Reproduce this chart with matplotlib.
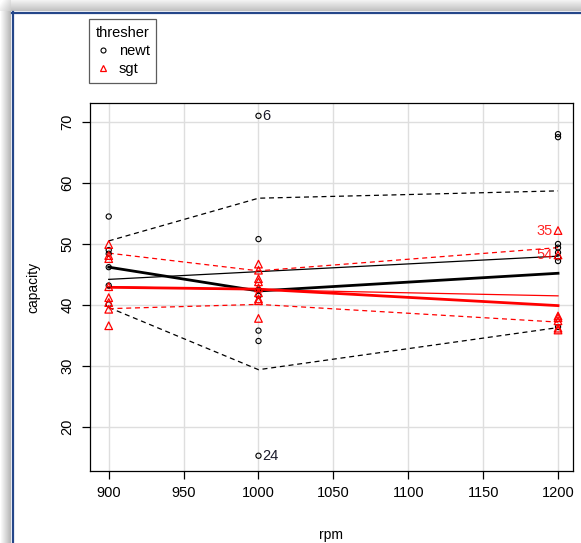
import numpy as np
import matplotlib

matplotlib.use("Agg")
import matplotlib.pyplot as plt
from matplotlib.lines import Line2D

plt.rcParams["font.family"] = ["Liberation Sans", "DejaVu Sans"]

W, H = 581, 543
RED = "#FF0000"
GRID = "#DEDEDE"
FRAME_BLUE = "#25478A"

# observed capacity by rpm, per thresher
newt_rpm = [900, 900, 900, 900, 900, 900,
            1000, 1000, 1000, 1000, 1000, 1000, 1000,
            1200, 1200, 1200, 1200, 1200, 1200, 1200, 1200]
newt_cap = [54.5, 49.0, 48.4, 46.2, 43.2, 40.1,
            71.0, 50.8, 42.5, 41.5, 35.8, 34.1, 15.3,
            68.0, 67.5, 50.0, 49.4, 48.6, 47.8, 47.2, 36.4]
sgt_rpm = [900, 900, 900, 900, 900, 900, 900, 900,
           1000, 1000, 1000, 1000, 1000, 1000, 1000, 1000, 1000,
           1200, 1200, 1200, 1200, 1200, 1200, 1200]
sgt_cap = [49.9, 48.1, 47.6, 43.0, 41.2, 40.4, 39.3, 36.6,
           46.7, 45.7, 44.3, 43.8, 42.8, 42.0, 41.0, 40.7, 37.8,
           52.2, 48.2, 38.2, 37.9, 37.4, 36.2, 35.9]

# fitted lines evaluated at the rpm levels
fit_rpm = [900, 1000, 1200]
newt_lm = [44.2, 45.5, 48.0]
sgt_lm = [43.0, 42.5, 41.5]
newt_smooth = [46.2, 42.3, 45.2]
sgt_smooth = [42.9, 42.6, 39.9]
newt_upper = [50.5, 57.5, 58.7]
newt_lower = [39.6, 29.4, 36.3]
sgt_upper = [48.5, 45.6, 49.4]
sgt_lower = [39.4, 40.1, 37.2]

# labelled points: (rpm, capacity, label, colour, side)
point_ids = [
    (1000, 71.0, "6", "#1a1a2a", "right"),
    (1000, 15.3, "24", "#1a1a2a", "right"),
    (1200, 52.2, "35", RED, "left"),
    (1200, 48.2, "54", RED, "left"),
]

x_ticks = [900, 950, 1000, 1050, 1100, 1150, 1200]
y_ticks = [20, 30, 40, 50, 60, 70]

fig = plt.figure(figsize=(W / 100, H / 100), dpi=100)

# window chrome: shadow bands on top and left, blue border
bg = fig.add_axes([0, 0, 1, 1], zorder=-5)
img = np.ones((H, W, 3))
top = np.linspace(0.95, 0.76, 11)
img[:11, :, :] = top[:, None, None]
left = np.linspace(1.0, 0.72, 11)
img[11:, :11, :] = left[None, :, None]
for i in range(11):
    for j in range(11):
        img[i, j, :] = 0.5 * (top[i] + left[j]) + 0.05
img = np.clip(img, 0, 1)
bg.imshow(img, extent=[0, W, H, 0], aspect="auto", interpolation="bilinear")
bg.plot([12.5, 12.5], [12, H], color=FRAME_BLUE, lw=1.6)
bg.plot([12, W], [12.5, 12.5], color=FRAME_BLUE, lw=1.6)
bg.set_xlim(0, W)
bg.set_ylim(H, 0)
bg.axis("off")

ax = fig.add_axes([90 / W, 1 - 471 / H, 483 / W, 368 / H])
ax.set_xlim(887.5, 1210)
ax.set_ylim(12.8, 73.1)
ax.set_xticks(x_ticks)
ax.set_yticks(y_ticks)
ax.grid(True, color=GRID, lw=1.0)
ax.set_axisbelow(True)
for s in ax.spines.values():
    s.set_linewidth(0.9)
ax.tick_params(direction="out", length=6, width=0.9, labelsize=10.5, pad=5)
plt.setp(ax.get_yticklabels(), rotation=90, va="center")
ax.set_xlabel("rpm", fontsize=10, labelpad=20)
ax.set_ylabel("capacity", fontsize=10, labelpad=15)

# points
ax.scatter(newt_rpm, newt_cap, s=14, facecolors="none", edgecolors="black",
           linewidths=0.8, zorder=4)
ax.scatter(sgt_rpm, sgt_cap, s=30, marker="^", facecolors="none",
           edgecolors=RED, linewidths=0.9, zorder=4)

# linear fits
ax.plot([fit_rpm[0], fit_rpm[-1]], [newt_lm[0], newt_lm[-1]], color="black", lw=0.9, zorder=3)
ax.plot([fit_rpm[0], fit_rpm[-1]], [sgt_lm[0], sgt_lm[-1]], color=RED, lw=0.9, zorder=3)

# smooths with spread
ax.plot(fit_rpm, newt_smooth, color="black", lw=2.0, zorder=3)
ax.plot(fit_rpm, sgt_smooth, color=RED, lw=2.0, zorder=3)
for ys, c in [(newt_upper, "black"), (newt_lower, "black"),
              (sgt_upper, RED), (sgt_lower, RED)]:
    ax.plot(fit_rpm, ys, color=c, lw=0.9, dashes=(4, 3), zorder=3)

for x, y, lab, c, side in point_ids:
    if side == "right":
        ax.annotate(lab, (x, y), xytext=(3, 0), textcoords="offset points",
                    ha="left", va="center", color=c, fontsize=10.5)
    else:
        ax.annotate(lab, (x, y), xytext=(-4, 0), textcoords="offset points",
                    ha="right", va="center", color=c, fontsize=10.5, alpha=0.85)

handles = [
    Line2D([], [], ls="none", marker="o", ms=3.6, mfc="none", mec="black", mew=0.8),
    Line2D([], [], ls="none", marker="^", ms=5.0, mfc="none", mec=RED, mew=0.9),
]
leg = fig.legend(handles, ["newt", "sgt"], title="thresher", loc="upper left",
                 bbox_to_anchor=(89 / W, 1 - 19 / H), fontsize=10.5,
                 title_fontsize=10.5, frameon=True, fancybox=False,
                 handlelength=1.0, handletextpad=0.6, borderpad=0.45,
                 borderaxespad=0, labelspacing=0.3, alignment="left")
leg.get_frame().set_edgecolor("#333333")
leg.get_frame().set_linewidth(0.9)

fig.savefig("out.png", dpi=100)
